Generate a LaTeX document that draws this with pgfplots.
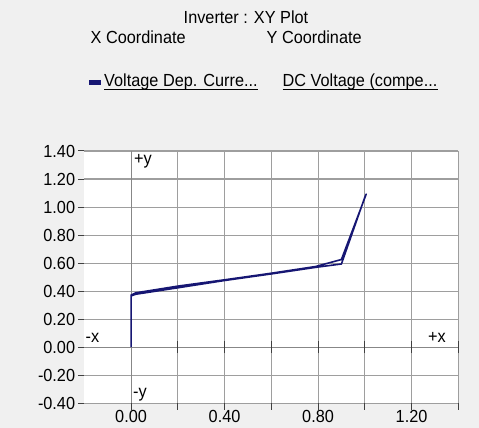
\documentclass[border=0pt]{standalone}
\usepackage{fontspec}
\setmainfont{Liberation Sans}[FakeStretch=0.93]
\usepackage{pgfplots}
\pgfplotsset{compat=1.18}
\definecolor{panel}{RGB}{240,240,240}
\definecolor{gridgray}{RGB}{158,158,158}
\definecolor{axisgray}{RGB}{135,135,135}
\definecolor{navy}{RGB}{22,22,115}

% Inverter output trajectory (forward sweep, then return sweep)
\pgfplotstableread{
x      y
0.000  0.000
0.000  0.372
0.020  0.388
0.200  0.436
0.400  0.481
0.600  0.528
0.790  0.576
0.900  0.626
1.006  1.092
1.000  1.070
0.900  0.594
0.790  0.570
0.600  0.523
0.400  0.476
0.200  0.424
0.020  0.378
0.000  0.366
}\loopdata

\begin{document}
\fontsize{17.5}{20}\selectfont
\begin{tikzpicture}[x=1pt,y=1pt]
\useasboundingbox (0,0) rectangle (479,428);
\fill[panel] (0,0) rectangle (479,428);

% header
\node[anchor=base,inner sep=0] at (246,404) {Inverter : XY Plot};
\node[anchor=base west,inner sep=0] at (90.5,384) {X Coordinate};
\node[anchor=base west,inner sep=0] at (266.5,384) {Y Coordinate};
\fill[navy] (89,343) rectangle (101,348);
\node[anchor=base west,inner sep=0] (lx) at (104,341) {Voltage Dep. Curre...};
\node[anchor=base west,inner sep=0] (ly) at (282.5,341) {DC Voltage (compe...};
\draw[line width=0.9pt] ([yshift=-2.6pt]lx.base west) -- ([yshift=-2.6pt]lx.base east);
\draw[line width=0.9pt] ([yshift=-2.6pt]ly.base west) -- ([yshift=-2.6pt]ly.base east);

\begin{axis}[
  at={(84.3pt,24.7pt)}, anchor=south west,
  scale only axis, width=374pt, height=252.3pt,
  xmin=-0.2, xmax=1.4, ymin=-0.4, ymax=1.4,
  axis background/.style={fill=white},
  axis line style={draw=none},
  xtick={0,0.2,0.4,0.6,0.8,1.0,1.2,1.4},
  xticklabels={0.00,,0.40,,0.80,,1.20,},
  ytick={-0.4,-0.2,0,0.2,0.4,0.6,0.8,1.0,1.2,1.4},
  yticklabels={-0.40,-0.20,0.00,0.20,0.40,0.60,0.80,1.00,1.20,1.40},
  grid=major,
  major grid style={gridgray, line width=1.1pt},
  tick align=outside,
  xtick pos=left, ytick pos=left,
  major tick length=6.5pt,
  tick style={black!75, line width=1pt},
  xticklabel style={inner sep=0.5pt},
  yticklabel style={inner sep=2.5pt},
  clip=false,
]
% central axes
\draw[axisgray, line width=1.1pt] (axis cs:-0.2,0) -- (axis cs:1.4,0);
\draw[axisgray, line width=1.1pt] (axis cs:0,-0.4) -- (axis cs:0,1.4);
\pgfplotsinvokeforeach{0.2,0.4,0.6,0.8,1.0,1.2,1.4}{
  \draw[black!75, line width=1pt] ([yshift=-6pt]axis cs:#1,0) -- ([yshift=6pt]axis cs:#1,0);
}
\addplot[navy, line width=1.6pt, line join=round, mark=none] table[x=x,y=y] {\loopdata};
\end{axis}

% quadrant markers
\node[anchor=base west,inner sep=0] at (134,263.5) {+y};
\node[anchor=base west,inner sep=0] at (133,30) {-y};
\node[anchor=base west,inner sep=0] at (85.5,85) {-x};
\node[anchor=base west,inner sep=0] at (428,85) {+x};
\end{tikzpicture}
\end{document}
